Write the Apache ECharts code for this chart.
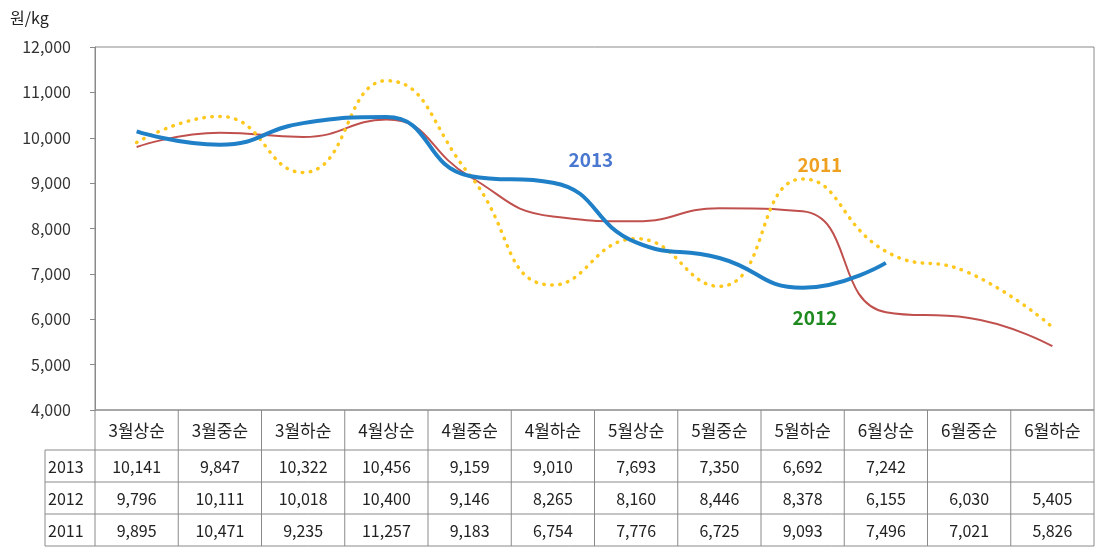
<!DOCTYPE html>
<html>
<head>
<meta charset="utf-8">
<script src="https://cdn.jsdelivr.net/npm/echarts@6/dist/echarts.min.js"></script>
<style>
  html, body { margin: 0; padding: 0; background: #fff; }
  #chart { width: 1096px; height: 547px; }
</style>
</head>
<body>
<div id="chart"></div>
<script>
const categories = ["3월상순", "3월중순", "3월하순", "4월상순", "4월중순", "4월하순", "5월상순", "5월중순", "5월하순", "6월상순", "6월중순", "6월하순"];
const years = ["2013", "2012", "2011"];
const y2013 = [10141, 9847, 10322, 10456, 9159, 9010, 7693, 7350, 6692, 7242, null, null];
const y2012 = [9796, 10111, 10018, 10400, 9146, 8265, 8160, 8446, 8378, 6155, 6030, 5405];
const y2011 = [9895, 10471, 9235, 11257, 9183, 6754, 7776, 6725, 9093, 7496, 7021, 5826];
const yTicks = [4000, 5000, 6000, 7000, 8000, 9000, 10000, 11000, 12000];

const font = '"Noto Sans CJK KR", "Noto Sans", sans-serif';
const chart = echarts.init(document.getElementById("chart"));

const grid = { left: 95, right: 2, top: 47, bottom: 137 };

chart.setOption({
  animation: false,
  grid: { ...grid, show: true, borderColor: "#8a8a8a", borderWidth: 1 },
  xAxis: {
    type: "category",
    data: categories,
    boundaryGap: true,
    axisLine: { show: false },
    axisTick: { show: false },
    axisLabel: { show: false }
  },
  yAxis: {
    type: "value",
    min: yTicks[0],
    max: yTicks[yTicks.length - 1],
    interval: 1000,
    splitLine: { show: false },
    axisLine: { show: true, lineStyle: { color: "#8a8a8a" } },
    axisTick: { show: true, length: 5, lineStyle: { color: "#8a8a8a" } },
    axisLabel: {
      fontFamily: font,
      fontSize: 16,
      color: "#333",
      margin: 24,
      formatter: v => v.toLocaleString("en-US")
    }
  },
  series: [
    {
      name: "2012",
      type: "line",
      smooth: 0.5,
      showSymbol: false,
      data: y2012,
      lineStyle: { color: "#c0504d", width: 2 }
    },
    {
      name: "2011",
      type: "line",
      smooth: 0.5,
      showSymbol: false,
      data: y2011,
      lineStyle: { color: "#ffc81e", width: 3.5, type: [0.5, 7.5], cap: "round" }
    },
    {
      name: "2013",
      type: "line",
      smooth: 0.5,
      showSymbol: false,
      data: y2013,
      lineStyle: { color: "#1f80c8", width: 4 }
    }
  ]
});

// series labels and the data table under the plot
const W = 1096;
const plotLeft = grid.left;
const plotRight = W - grid.right;
const tableTop = 547 - grid.bottom;
const headerH = 40;
const rowH = 32;
const labelLeft = 45;
const lineColor = "#8a8a8a";
const rows = [y2013, y2012, y2011];

const elements = [];
const line = (x1, y1, x2, y2) => elements.push({
  type: "line",
  shape: { x1, y1, x2, y2 },
  style: { stroke: lineColor, lineWidth: 1 },
  silent: true
});
const text = (x, y, str, opt) => elements.push({
  type: "text",
  x, y,
  style: Object.assign({ text: str, font: "16px " + font, fill: "#222", align: "center", verticalAlign: "middle" }, opt || {}),
  silent: true
});

const centers = categories.map((c, i) => chart.convertToPixel({ xAxisIndex: 0 }, i));
const half = (plotRight - plotLeft) / categories.length / 2;
const tableBottom = tableTop + headerH + rowH * rows.length;

// horizontal lines
line(plotLeft, tableTop, plotRight, tableTop);
line(labelLeft, tableTop + headerH, plotRight, tableTop + headerH);
rows.forEach((r, k) => line(labelLeft, tableTop + headerH + rowH * (k + 1), plotRight, tableTop + headerH + rowH * (k + 1)));
// vertical lines
line(labelLeft, tableTop + headerH, labelLeft, tableBottom);
line(plotLeft, tableTop, plotLeft, tableBottom);
centers.forEach(cx => line(cx + half, tableTop, cx + half, tableBottom));

categories.forEach((c, i) => text(centers[i], tableTop + headerH / 2 + 1, c, { font: "17px " + font }));
years.forEach((yr, k) => {
  const cy = tableTop + headerH + rowH * k + rowH / 2 + 1;
  text(labelLeft + 3, cy, yr, { align: "left" });
  rows[k].forEach((v, i) => {
    if (v != null) text(centers[i], cy, v.toLocaleString("en-US"));
  });
});

// unit and series names
text(10, 18, "원/kg", { align: "left", font: "16px " + font });
const bold = "bold 19px " + font;
text(chart.convertToPixel({ xAxisIndex: 0 }, 5) + 38, 160, "2013", { fill: "#4a78d0", font: bold });
text(chart.convertToPixel({ xAxisIndex: 0 }, 9) - 66, 165, "2011", { fill: "#f0a020", font: bold });
text(chart.convertToPixel({ xAxisIndex: 0 }, 9) - 71, 318, "2012", { fill: "#1f8a1f", font: bold });

chart.setOption({ graphic: { elements } });
</script>
</body>
</html>
